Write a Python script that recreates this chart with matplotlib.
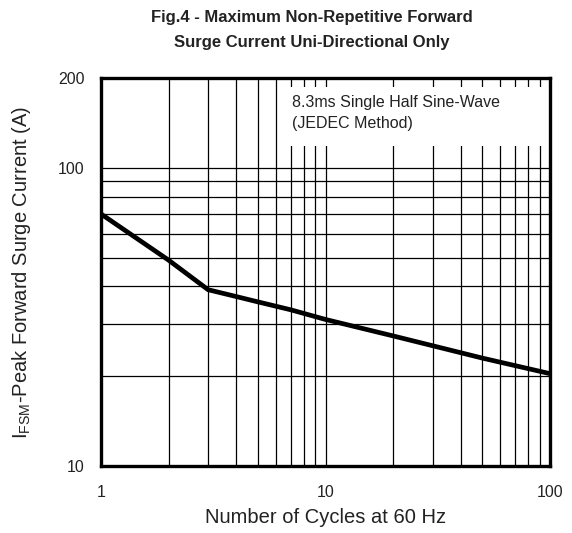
import matplotlib
matplotlib.use("Agg")
import matplotlib.pyplot as plt
from matplotlib.ticker import FixedLocator, NullFormatter, FixedFormatter
from matplotlib.patches import Rectangle

plt.rcParams['font.family'] = ['Liberation Sans', 'DejaVu Sans']

# curve
cycles = [1, 2, 3, 4, 5, 7, 10, 20, 50, 100]
surge_current = [70, 49, 39, 37, 35.5, 33.4, 31, 27.3, 23, 20.4]

x_ticks = [1, 10, 100]
x_tick_labels = ['1', '10', '100']
y_ticks = [10, 100, 200]
y_tick_labels = ['10', '100', '200']
x_minor = [2, 3, 4, 5, 6, 7, 8, 9, 20, 30, 40, 50, 60, 70, 80, 90]
y_minor = [20, 30, 40, 50, 60, 70, 80, 90]

fig = plt.figure(figsize=(5.72, 5.33), dpi=100)
ax = fig.add_axes([0.1766, 0.1257, 0.785, 0.728])

ax.set_xscale('log')
ax.set_yscale('log')
ax.set_xlim(1, 100)
ax.set_ylim(10, 200)

ax.xaxis.set_major_locator(FixedLocator(x_ticks))
ax.xaxis.set_major_formatter(FixedFormatter(x_tick_labels))
ax.yaxis.set_major_locator(FixedLocator(y_ticks))
ax.yaxis.set_major_formatter(FixedFormatter(y_tick_labels))
ax.xaxis.set_minor_locator(FixedLocator(x_minor))
ax.yaxis.set_minor_locator(FixedLocator(y_minor))
ax.xaxis.set_minor_formatter(NullFormatter())
ax.yaxis.set_minor_formatter(NullFormatter())

ax.tick_params(which='both', length=0, labelsize=11.5, labelcolor='#222222')
ax.tick_params(axis='x', pad=14)
ax.tick_params(axis='y', pad=12)

ax.grid(True, which='both', color='black', linewidth=0.9)
ax.set_axisbelow(True)

for s in ax.spines.values():
    s.set_linewidth(2.4)

ax.plot(cycles, surge_current, color='black', linewidth=3.4, zorder=3)

# white box behind the note, cutting the grid lines
ax.add_patch(Rectangle((0.405, 0.825), 0.6, 0.152, transform=ax.transAxes,
                       facecolor='white', edgecolor='none', zorder=2))
ax.text(0.425, 0.957, "8.3ms Single Half Sine-Wave\n(JEDEC Method)",
        transform=ax.transAxes, fontsize=11.5, va='top', ha='left',
        linespacing=1.55, color='#222222', zorder=4)

ax.set_xlabel("Number of Cycles at 60 Hz", fontsize=14.5, color='#222222')
ax.set_ylabel(r"I$_{\mathregular{FSM}}$-Peak Forward Surge Current (A)",
              fontsize=14.5, color='#222222')
ax.xaxis.set_label_coords(0.5, -0.108)
ax.yaxis.set_label_coords(-0.152, 0.5)

fig.text(0.545, 0.967, "Fig.4 - Maximum Non-Repetitive Forward",
         ha='center', va='center', fontsize=12, fontweight='bold', color='#222222')
fig.text(0.545, 0.921, "Surge Current Uni-Directional Only",
         ha='center', va='center', fontsize=12, fontweight='bold', color='#222222')

fig.savefig("out.png", dpi=100)
